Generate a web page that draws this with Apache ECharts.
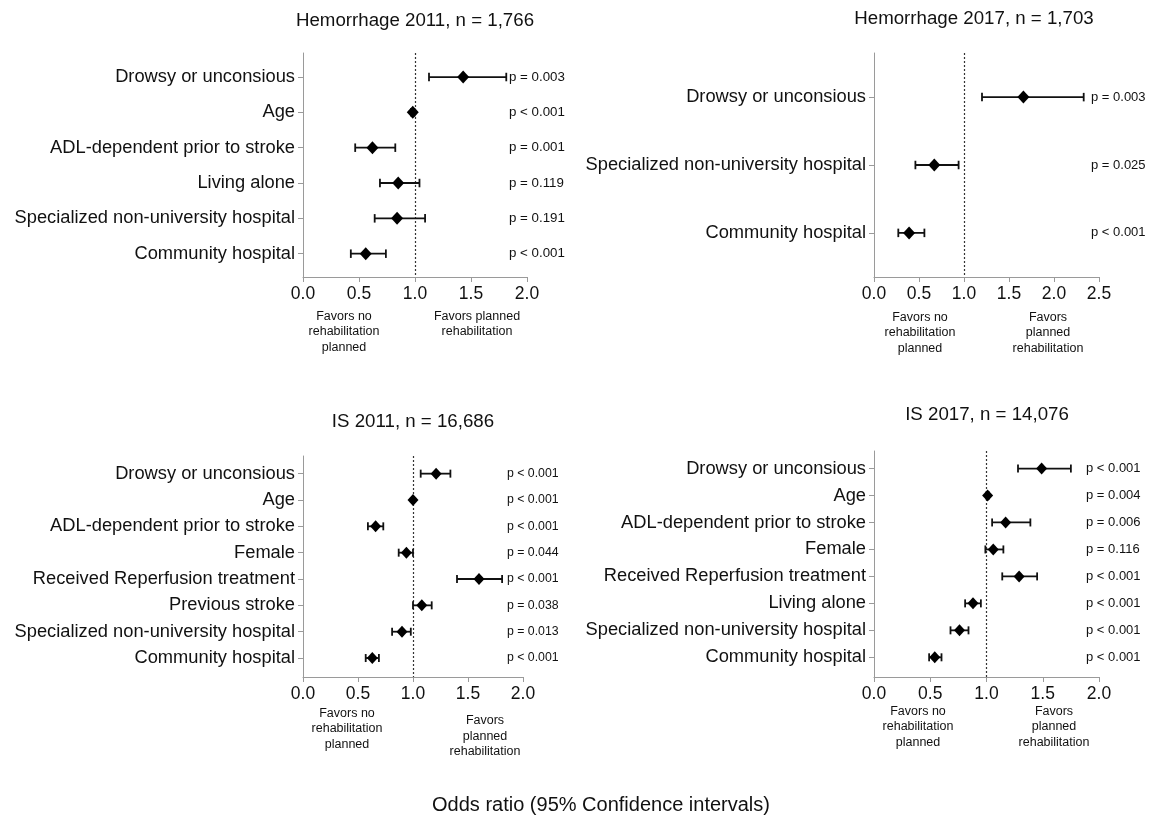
<!DOCTYPE html>
<html><head><meta charset="utf-8">
<script src="https://cdn.jsdelivr.net/npm/echarts@6/dist/echarts.min.js"></script>
<style>html,body{margin:0;padding:0;background:#fff}#c{width:1158px;height:819px}</style>
</head><body><div id="c"></div><script>
// ---- Data ----
const h11Labels = ['Drowsy or unconsious','Age','ADL-dependent prior to stroke','Living alone','Specialized non-university hospital','Community hospital'];
const h11OR   = [1.43, 0.98, 0.62, 0.85, 0.84, 0.56];
const h11Low  = [1.125, 0.965, 0.466, 0.687, 0.64, 0.427];
const h11High = [1.815, 0.995, 0.824, 1.04, 1.09, 0.74];
const h11P    = ['p = 0.003','p < 0.001','p = 0.001','p = 0.119','p = 0.191','p < 0.001'];

const h17Labels = ['Drowsy or unconsious','Specialized non-university hospital','Community hospital'];
const h17OR   = [1.66, 0.67, 0.39];
const h17Low  = [1.2, 0.46, 0.27];
const h17High = [2.33, 0.94, 0.56];
const h17P    = ['p = 0.003','p = 0.025','p < 0.001'];

const is11Labels = ['Drowsy or unconsious','Age','ADL-dependent prior to stroke','Female','Received Reperfusion treatment','Previous stroke','Specialized non-university hospital','Community hospital'];
const is11OR   = [1.21, 1.00, 0.66, 0.94, 1.60, 1.08, 0.90, 0.63];
const is11Low  = [1.07, 0.99, 0.59, 0.87, 1.40, 1.00, 0.81, 0.57];
const is11High = [1.34, 1.01, 0.73, 1.00, 1.81, 1.17, 0.98, 0.69];
const is11P    = ['p < 0.001','p < 0.001','p < 0.001','p = 0.044','p < 0.001','p = 0.038','p = 0.013','p < 0.001'];

const is17Labels = ['Drowsy or unconsious','Age','ADL-dependent prior to stroke','Female','Received Reperfusion treatment','Living alone','Specialized non-university hospital','Community hospital'];
const is17OR   = [1.49, 1.01, 1.17, 1.06, 1.29, 0.88, 0.76, 0.54];
const is17Low  = [1.28, 1.00, 1.05, 0.99, 1.14, 0.81, 0.68, 0.49];
const is17High = [1.75, 1.02, 1.39, 1.15, 1.45, 0.95, 0.84, 0.60];
const is17P    = ['p < 0.001','p = 0.004','p = 0.006','p = 0.116','p < 0.001','p < 0.001','p < 0.001','p < 0.001'];

const xTickFormat = v => v.toFixed(1);
const titles = ['Hemorrhage 2011, n = 1,766','Hemorrhage 2017, n = 1,703','IS 2011, n = 16,686','IS 2017, n = 14,076'];
const favNo = 'Favors no\nrehabilitation\nplanned';
const favYes2 = 'Favors planned\nrehabilitation';
const favYes3 = 'Favors\nplanned\nrehabilitation';
const xLabel = 'Odds ratio (95% Confidence intervals)';

// ---- Layout ----
const FONT = '"Liberation Sans", Arial, Helvetica, sans-serif';
const panels = [
  {labels:h11Labels, or:h11OR, lo:h11Low, hi:h11High, p:h11P, xMax:2,
   grid:{left:303, top:53, width:224, height:224}, padTop:0.68, padBottom:0.66,
   pX:509, pFont:13.3, cap:8.5, sym:[12,13], title:[415,21],
   favL:[344,332], favR:[477,324], favRText:favYes2},
  {labels:h17Labels, or:h17OR, lo:h17Low, hi:h17High, p:h17P, xMax:2.5,
   grid:{left:874, top:53, width:225, height:224}, padTop:0.65, padBottom:0.65,
   pX:1091, pFont:13, cap:8.5, sym:[12,13], title:[974,19],
   favL:[920,333], favR:[1048,333], favRText:favYes3},
  {labels:is11Labels, or:is11OR, lo:is11Low, hi:is11High, p:is11P, xMax:2,
   grid:{left:303, top:456, width:220, height:221}, padTop:0.67, padBottom:0.72,
   pX:507, pFont:12.3, cap:8, sym:[11,12], title:[413,422],
   favL:[347,729], favR:[485,736.5], favRText:favYes3},
  {labels:is17Labels, or:is17OR, lo:is17Low, hi:is17High, p:is17P, xMax:2,
   grid:{left:874, top:451, width:225, height:226}, padTop:0.65, padBottom:0.73,
   pX:1086, pFont:13, cap:8, sym:[11,12], title:[987,415],
   favL:[918,727], favR:[1054,727], favRText:favYes3}
];

const AX = '#9a9a9a';
const grids = [], xAxes = [], yAxes = [], series = [], graphics = [];
panels.forEach((P, k) => {
  const n = P.labels.length;
  const idx = P.labels.map((_, i) => i + 1);
  grids.push(Object.assign({containLabel:false}, P.grid));
  xAxes.push({type:'value', gridIndex:k, min:0, max:P.xMax, interval:0.5,
    axisLine:{show:true, onZero:false, lineStyle:{color:AX, width:1}},
    axisTick:{show:true, length:5, lineStyle:{color:AX}},
    axisLabel:{formatter:xTickFormat, fontSize:17.5, color:'#111', margin:8, fontFamily:FONT},
    splitLine:{show:false}});
  yAxes.push({type:'value', gridIndex:k, inverse:true, min:1 - P.padTop, max:n + P.padBottom,
    axisLine:{show:true, onZero:false, lineStyle:{color:AX, width:1}},
    axisTick:{show:true, length:5, customValues:idx, lineStyle:{color:AX}},
    axisLabel:{customValues:idx, formatter:v => P.labels[Math.round(v) - 1] || '',
      fontSize:18.3, color:'#111', margin:8, fontFamily:FONT},
    splitLine:{show:false}});
  // error bars
  series.push({type:'custom', xAxisIndex:k, yAxisIndex:k, z:3, silent:true,
    data:P.lo.map((l, i) => [l, P.hi[i], i + 1]),
    encode:{x:[0,1], y:2},
    renderItem:(params, api) => {
      const a = api.coord([api.value(0), api.value(2)]);
      const b = api.coord([api.value(1), api.value(2)]);
      const h = P.cap / 2;
      const st = {stroke:'#111', lineWidth:1.8};
      return {type:'group', children:[
        {type:'line', shape:{x1:a[0], y1:a[1], x2:b[0], y2:b[1]}, style:st},
        {type:'line', shape:{x1:a[0], y1:a[1]-h, x2:a[0], y2:a[1]+h}, style:st},
        {type:'line', shape:{x1:b[0], y1:b[1]-h, x2:b[0], y2:b[1]+h}, style:st}
      ]};
    }});
  // point estimates
  series.push({type:'scatter', xAxisIndex:k, yAxisIndex:k, z:5, silent:true,
    symbol:'diamond', symbolSize:P.sym, itemStyle:{color:'#000', opacity:1},
    data:P.or.map((v, i) => [v, i + 1]),
    markLine:{silent:true, symbol:'none', label:{show:false}, z:1,
      lineStyle:{type:[2,2], color:'#333', width:1.2},
      data:[{xAxis:1}]}});
  // p-value labels
  series.push({type:'custom', xAxisIndex:k, yAxisIndex:k, z:4, silent:true,
    data:idx.map(i => [0, i]),
    encode:{x:0, y:1},
    renderItem:(params, api) => {
      const c = api.coord([0, api.value(1)]);
      return {type:'text', x:P.pX, y:c[1], style:{text:P.p[params.dataIndex],
        fill:'#111', fontSize:P.pFont, fontFamily:FONT, align:'left', verticalAlign:'middle'}};
    }});
  graphics.push({type:'text', x:P.title[0], y:P.title[1], style:{text:titles[k], fill:'#111',
    fontSize:18.7, fontFamily:FONT, align:'center', verticalAlign:'middle'}});
  graphics.push({type:'text', x:P.favL[0], y:P.favL[1], style:{text:favNo, fill:'#111',
    fontSize:12.5, lineHeight:15.5, fontFamily:FONT, align:'center', verticalAlign:'middle'}});
  graphics.push({type:'text', x:P.favR[0], y:P.favR[1], style:{text:P.favRText, fill:'#111',
    fontSize:12.5, lineHeight:15.5, fontFamily:FONT, align:'center', verticalAlign:'middle'}});
});
graphics.push({type:'text', x:601, y:805, style:{text:xLabel, fill:'#111',
  fontSize:20, fontFamily:FONT, align:'center', verticalAlign:'middle'}});

const chart = echarts.init(document.getElementById('c'), null, {renderer:'canvas'});
chart.setOption({
  animation:false, backgroundColor:'#fff',
  textStyle:{fontFamily:FONT},
  grid:grids, xAxis:xAxes, yAxis:yAxes, series:series, graphic:graphics
});
</script></body></html>
